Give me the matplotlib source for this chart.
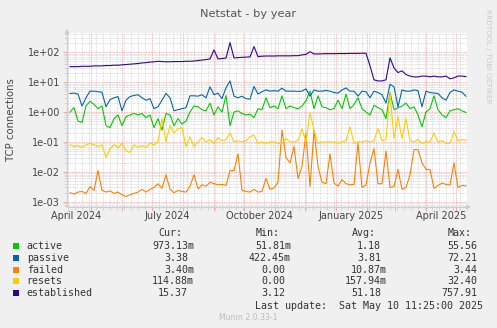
import numpy as np
import pandas as pd
import matplotlib
matplotlib.use("Agg")
import matplotlib.pyplot as plt
import matplotlib.dates as mdates
from matplotlib.ticker import LogLocator, FuncFormatter, NullFormatter
from matplotlib.patches import Rectangle

# samples every 4 days
dates = pd.date_range("2024-04-10", periods=100, freq="4D")

active = [1.0, 1.4, 0.5, 0.45, 1.6, 2.3, 1.8, 1.3, 1.6, 0.35,
          0.3, 0.6, 0.8, 0.35, 0.7, 0.8, 0.9, 0.8, 0.9, 0.65,
          0.8, 0.3, 0.6, 0.25, 0.9, 0.8, 0.35, 0.6, 0.4, 0.5,
          1.0, 1.6, 1.5, 1.2, 1.1, 2.0, 0.8, 1.5, 1.0, 3.6,
          0.35, 1.0, 1.1, 0.9, 0.8, 0.85, 0.65, 1.3, 1.2, 3.0,
          1.4, 1.6, 1.3, 3.5, 1.3, 1.6, 1.4, 1.3, 1.6, 2.4,
          5.0, 1.3, 3.5, 1.5, 1.4, 1.2, 1.3, 2.5, 1.3, 4.0,
          1.3, 1.8, 3.0, 1.3, 1.0, 0.8, 1.7, 1.4, 1.2, 0.6,
          4.5, 1.2, 1.4, 1.6, 2.0, 1.3, 1.5, 0.8, 0.32, 1.0,
          1.3, 3.5, 1.2, 0.8, 0.65, 1.1, 1.2, 1.3, 1.1, 0.97]

passive = [4.2, 4.3, 4.0, 1.6, 3.0, 5.0, 5.0, 4.8, 4.6, 1.5,
           2.6, 3.0, 3.3, 1.1, 2.5, 3.3, 3.6, 3.8, 3.0, 2.5,
           2.8, 1.3, 1.5, 2.5, 4.2, 3.0, 1.1, 1.2, 1.3, 1.4,
           3.5, 3.5, 3.4, 3.8, 3.0, 7.0, 3.8, 4.3, 2.8, 6.5,
           11.0, 3.4, 3.0, 3.4, 2.8, 2.7, 7.2, 4.0, 4.8, 5.5,
           5.0, 5.2, 5.0, 6.3, 5.0, 5.0, 5.0, 4.9, 5.0, 6.0,
           3.4, 5.5, 5.0, 5.0, 5.3, 5.0, 4.5, 4.3, 5.5, 6.4,
           5.0, 5.0, 3.4, 5.0, 4.8, 3.0, 5.0, 4.5, 3.8, 2.0,
           8.5, 7.0, 1.5, 5.5, 5.0, 5.0, 5.5, 5.2, 1.5, 5.0,
           4.5, 4.3, 4.2, 3.0, 2.5, 4.5, 5.5, 5.0, 4.6, 3.38]

failed = [0.002, 0.0018, 0.0021, 0.0022, 0.0019, 0.0032, 0.0024, 0.011, 0.0024, 0.0021,
          0.0023, 0.0019, 0.0021, 0.0017, 0.0015, 0.0017, 0.0019, 0.0021, 0.0026, 0.0021,
          0.0026, 0.003, 0.004, 0.0028, 0.008, 0.0026, 0.002, 0.0024, 0.0022, 0.0021,
          0.0033, 0.008, 0.0027, 0.0037, 0.0033, 0.0045, 0.004, 0.0037, 0.0038, 0.0035,
          0.011, 0.011, 0.04, 0.0024, 0.0022, 0.0021, 0.0026, 0.0021, 0.0022, 0.006,
          0.0026, 0.0029, 0.0045, 0.25, 0.03, 0.02, 0.07, 0.006, 0.015, 0.2,
          0.0032, 0.25, 0.015, 0.0045, 0.004, 0.04, 0.0042, 0.0033, 0.0055, 0.004,
          0.0037, 0.0038, 0.09, 0.003, 0.0036, 0.02, 0.06, 0.004, 0.004, 0.05,
          0.003, 0.0032, 0.012, 0.0026, 0.003, 0.008, 0.055, 0.055, 0.02, 0.012,
          0.012, 0.0028, 0.0035, 0.0042, 0.0038, 0.0036, 0.02, 0.003, 0.0035, 0.0034]

resets = [0.08, 0.07, 0.075, 0.065, 0.08, 0.09, 0.08, 0.07, 0.08, 0.03,
          0.06, 0.08, 0.065, 0.09, 0.05, 0.045, 0.08, 0.065, 0.075, 0.065,
          0.09, 0.08, 0.1, 0.6, 0.1, 0.35, 0.2, 0.28, 0.3, 0.07,
          0.15, 0.07, 0.1, 0.14, 0.1, 0.12, 0.09, 0.14, 0.11, 0.12,
          0.2, 0.1, 0.11, 0.1, 0.11, 0.15, 0.17, 0.09, 0.1, 0.09,
          0.1, 0.1, 0.09, 0.09, 0.13, 0.1, 0.1, 0.11, 0.28, 0.1,
          0.95, 0.25, 0.09, 0.1, 0.1, 0.1, 0.1, 0.09, 0.1, 0.11,
          0.32, 0.09, 0.1, 0.1, 0.11, 0.1, 0.11, 0.28, 0.11, 0.12,
          4.5, 0.13, 0.7, 0.13, 0.6, 0.11, 0.1, 0.12, 0.09, 0.1,
          0.1, 0.2, 0.1, 0.11, 0.09, 0.09, 0.22, 0.11, 0.12, 0.115]

established = [33, 33, 33, 34, 34, 34, 35, 35, 35, 36,
               36, 37, 37, 38, 39, 40, 41, 42, 44, 45,
               47, 48, 50, 49, 48, 48, 49, 49, 49, 50,
               50, 51, 53, 55, 57, 60, 120, 60, 62, 64,
               210, 65, 66, 68, 69, 70, 155, 72, 74, 75,
               75, 75, 76, 76, 76, 76, 77, 77, 82, 85,
               105, 88, 88, 89, 90, 90, 90, 91, 91, 91,
               92, 92, 92, 93, 93, 35, 12, 11, 11, 12,
               65, 30, 21, 24, 18, 16, 15, 15, 16, 16,
               15, 16, 15, 15, 16, 13, 14, 16, 16, 15.37]

names = ["active", "passive", "failed", "resets", "established"]
colors = ["#00CC00", "#0066B3", "#FF8000", "#FFCC00", "#330099"]
cur = ["973.13m", "3.38", "3.40m", "114.88m", "15.37"]
mins = ["51.81m", "422.45m", "0.00", "0.00", "3.12"]
avgs = ["1.18", "3.81", "10.87m", "157.94m", "51.18"]
maxs = ["55.56", "72.21", "3.44", "32.40", "757.91"]

W, H = 497, 328
def fx(x):
    return x / W
def fy(y):
    return 1 - y / H

fig = plt.figure(figsize=(W / 100, H / 100), dpi=100, facecolor="#F0F0F0")
ax = fig.add_axes([fx(67), fy(207), 400 / W, 174 / H])
ax.set_facecolor("white")

for vals, c in zip([active, passive, failed, resets, established], colors):
    ax.plot(dates, vals, color=c, lw=0.8, zorder=3)

ax.set_yscale("log")
ax.set_ylim(6.65e-4, 442)
ax.set_xlim(pd.Timestamp("2024-04-07"), pd.Timestamp("2025-05-12"))

ax.yaxis.set_major_locator(LogLocator(base=10, numticks=12))
ax.yaxis.set_minor_locator(LogLocator(base=10, subs=range(2, 10), numticks=12))
ax.yaxis.set_major_formatter(FuncFormatter(lambda v, _: f"{v:.0e}"))
ax.yaxis.set_minor_formatter(NullFormatter())

ax.xaxis.set_major_locator(mdates.MonthLocator())
ax.xaxis.set_minor_locator(mdates.WeekdayLocator(byweekday=mdates.MO))
ax.xaxis.set_major_formatter(NullFormatter())

ax.grid(which="minor", color="#C8C8C8", lw=0.5, ls=(0, (1, 1)), zorder=1)
ax.grid(which="major", color="#F2A0A0", lw=0.6, ls=(0, (1, 1)), zorder=2)

ax.tick_params(which="major", length=3, width=0.6, color="#F2A0A0",
               labelsize=7, labelcolor="#444444", pad=2)
ax.tick_params(which="minor", length=2, width=0.5, color="#C8C8C8")

for s in ["top", "right"]:
    ax.spines[s].set_visible(False)
for s in ["left", "bottom"]:
    ax.spines[s].set_color("#C4CAF2")
    ax.spines[s].set_linewidth(0.8)

ax.annotate("", xy=(0, 1.04), xytext=(0, 0.99), xycoords="axes fraction",
            arrowprops=dict(arrowstyle="-|>", color="#C4CAF2", lw=0.8, mutation_scale=6),
            annotation_clip=False)
ax.annotate("", xy=(1.017, 0), xytext=(0.99, 0), xycoords="axes fraction",
            arrowprops=dict(arrowstyle="-|>", color="#C4CAF2", lw=0.8, mutation_scale=6),
            annotation_clip=False)

# month labels centred in their month, as rrdtool does
xlabels = ["April 2024", "July 2024", "October 2024", "January 2025", "April 2025"]
xlabel_pos = ["2024-04-16", "2024-07-16", "2024-10-16", "2025-01-16", "2025-04-16"]
for lab, d in zip(xlabels, xlabel_pos):
    ax.text(pd.Timestamp(d), -9 / 174, lab, transform=ax.get_xaxis_transform(),
            ha="center", va="center", fontsize=7, color="#444444")

fig.text(fx(248), fy(14), "Netstat - by year", ha="center", va="center",
         fontsize=8.2, color="#555555")
fig.text(fx(11), fy(120), "TCP connections", ha="center", va="center",
         rotation=90, fontsize=7.3, color="#444444")
fig.text(fx(488), fy(56), "RRDTOOL / TOBI OETIKER", ha="center", va="center",
         rotation=270, fontsize=5.3, color="#C8C8C8")

mono = "DejaVu Sans Mono"
fs = 7.2
tc = "#333333"
cw = 6.05
for lab, x in zip(["Cur:", "Min:", "Avg:", "Max:"], [158, 256, 352, 448]):
    fig.text(fx(x), fy(233), lab, ha="left", va="center", family=mono, fontsize=fs, color=tc)

rows_y = [245.7, 257.7, 269.7, 281.3, 293.3]
col_right = [194, 291, 387, 483]
for i, name in enumerate(names):
    y = rows_y[i]
    fig.patches.append(Rectangle((fx(13), fy(y + 3)), 6 / W, 6 / H, transform=fig.transFigure,
                                 facecolor=colors[i], edgecolor="none"))
    fig.text(fx(26.7), fy(y), name, ha="left", va="center", family=mono, fontsize=fs, color=tc)
    for vals, xr in zip([cur, mins, avgs, maxs], col_right):
        v = vals[i]
        xx = xr if v.endswith("m") else xr - cw
        fig.text(fx(xx), fy(y), v, ha="right", va="center", family=mono, fontsize=fs, color=tc)

fig.text(fx(483), fy(306), "Last update:  Sat May 10 11:25:00 2025", ha="right", va="center",
         family=mono, fontsize=fs, color=tc)
fig.text(fx(248.5), fy(317), "Munin 2.0.33-1", ha="center", va="center",
         fontsize=5.6, color="#BBBBBB")

fig.savefig("out.png", dpi=100, facecolor=fig.get_facecolor())
